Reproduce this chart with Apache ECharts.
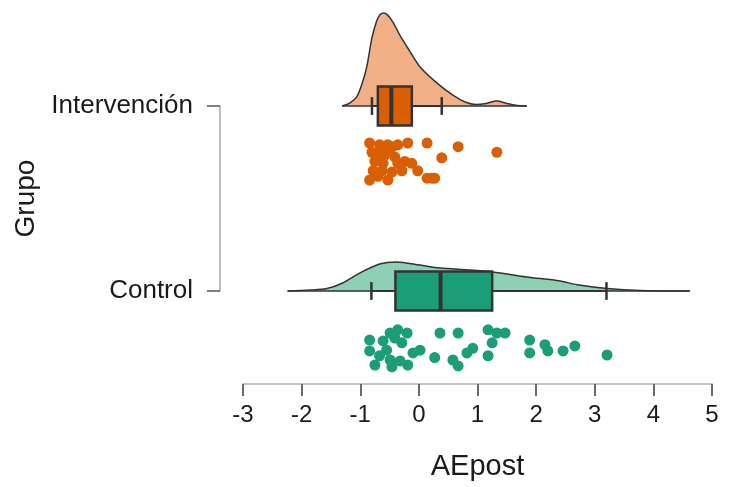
<!DOCTYPE html>
<html>
<head>
<meta charset="utf-8">
<script src="https://cdn.jsdelivr.net/npm/echarts@6/dist/echarts.min.js"></script>
<style>
  html, body { margin: 0; padding: 0; background: #fff; }
  #chart { width: 737px; height: 487px; }
</style>
</head>
<body>
<div id="chart"></div>
<script>
// y positions on the value axis: Control = 0, Intervención = 1
const GROUPS = ['Control', 'Intervención'];
const X_TICKS = [-3, 5];

// half-violin outline, [AEpost, density height]
const INTER_DENSITY = [
  [-1.31, 0], [-1.18, 0.016], [-1.06, 0.049], [-0.97, 0.12], [-0.89, 0.21],
  [-0.80, 0.37], [-0.72, 0.46], [-0.66, 0.495], [-0.60, 0.503], [-0.54, 0.494],
  [-0.44, 0.452], [-0.32, 0.38], [-0.20, 0.319], [0.02, 0.211], [0.31, 0.124],
  [0.58, 0.059], [0.80, 0.02], [0.97, 0.008], [1.15, 0.014], [1.33, 0.027],
  [1.50, 0.014], [1.65, 0.004], [1.84, 0]
];
const CTRL_DENSITY = [
  [-2.24, 0], [-1.86, 0.005], [-1.57, 0.013], [-1.30, 0.043], [-1.01, 0.097],
  [-0.67, 0.146], [-0.38, 0.157], [0.02, 0.14], [0.36, 0.124], [0.87, 0.114],
  [1.26, 0.103], [1.84, 0.076], [2.41, 0.054], [2.70, 0.034], [3.21, 0.014],
  [3.77, 0.003], [4.62, 0]
];

// [whisker low, q1, median, q3, whisker high]
const INTER_BOX = [-0.80, -0.70, -0.47, -0.12, 0.39];
const CTRL_BOX = [-0.81, -0.40, 0.37, 1.25, 3.20];

// raw points, [AEpost, vertical jitter below the group line]
const INTER_POINTS = [
  [-0.84, -0.20], [-0.67, -0.21], [-0.53, -0.21], [-0.36, -0.21], [-0.19, -0.20],
  [0.14, -0.20], [0.67, -0.22], [1.33, -0.25], [0.39, -0.28], [-0.80, -0.25],
  [-0.75, -0.30], [-0.58, -0.265], [-0.41, -0.276], [-0.24, -0.30], [-0.12, -0.31],
  [-0.02, -0.35], [0.14, -0.39], [0.27, -0.39], [-0.84, -0.40], [-0.53, -0.40],
  [-0.46, -0.357], [-0.63, -0.35], [-0.78, -0.35], [-0.29, -0.35], [-0.36, -0.31],
  [-0.61, -0.31], [-0.72, -0.28], [-0.66, -0.24], [-0.50, -0.24], [-0.70, -0.38],
  [-0.45, -0.22], [0.22, -0.39]
];
const CTRL_POINTS = [
  [-0.84, -0.265], [-0.84, -0.324], [-0.75, -0.40], [-0.49, -0.227], [-0.36, -0.21],
  [-0.20, -0.227], [-0.41, -0.254], [-0.55, -0.32], [-0.49, -0.373], [-0.46, -0.41],
  [-0.32, -0.378], [-0.19, -0.40], [-0.10, -0.335], [0.02, -0.32], [0.27, -0.36],
  [0.36, -0.227], [0.67, -0.227], [0.58, -0.373], [0.67, -0.405], [0.82, -0.335],
  [0.92, -0.31], [1.18, -0.21], [1.33, -0.227], [1.47, -0.227], [1.25, -0.28],
  [1.18, -0.35], [1.89, -0.265], [1.89, -0.335], [2.15, -0.29], [2.20, -0.324],
  [2.46, -0.324], [2.66, -0.297], [3.21, -0.346], [-0.61, -0.27], [-0.29, -0.28],
  [-0.67, -0.35]
];

const FONT = 'Liberation Sans, Arial, sans-serif';
const INK = '#333333';

const chart = echarts.init(document.getElementById('chart'), null, { renderer: 'canvas' });

function shift(arr, base) {
  return arr.map(([x, v]) => [x, base + v]);
}

function densitySeries(dens, base, fill) {
  return {
    type: 'line', data: shift(dens, base), smooth: 0.3, showSymbol: false, clip: false,
    lineStyle: { color: INK, width: 1.5 },
    areaStyle: { color: fill, opacity: 1, origin: base },
    z: 2
  };
}

function baselineSeries(dens, base) {
  return {
    type: 'line', clip: false, showSymbol: false, z: 3,
    lineStyle: { color: INK, width: 1.5 },
    data: [[dens[0][0], base], [dens[dens.length - 1][0], base]]
  };
}

// box + whiskers drawn through the axes' scales
function boxSeries(stats, base, fill) {
  return {
    type: 'custom', clip: false, z: 4,
    data: [[base, ...stats]],
    renderItem(params, api) {
      const b = api.value(0);
      const px = (v) => api.coord([v, b])[0];
      const y = api.coord([0, b])[1];
      const hh = api.size([0, 0.105])[1];
      const ch = api.size([0, 0.048])[1];
      const lo = px(api.value(1)), q1 = px(api.value(2)), med = px(api.value(3));
      const q3 = px(api.value(4)), hi = px(api.value(5));
      const seg = (x1, y1, x2, y2, w) => ({
        type: 'line', shape: { x1, y1, x2, y2 }, style: { stroke: INK, lineWidth: w }
      });
      return {
        type: 'group',
        children: [
          seg(lo, y, q1, y, 2),
          seg(q3, y, hi, y, 2),
          seg(lo, y - ch, lo, y + ch, 2.5),
          seg(hi, y - ch, hi, y + ch, 2.5),
          { type: 'rect', shape: { x: q1, y: y - hh, width: q3 - q1, height: 2 * hh },
            style: { fill, stroke: INK, lineWidth: 2.5 } },
          seg(med, y - hh, med, y + hh, 4)
        ]
      };
    }
  };
}

function pointSeries(pts, base, color) {
  return {
    type: 'scatter', data: shift(pts, base), symbolSize: 11, clip: false, z: 5,
    itemStyle: { color, opacity: 1 }
  };
}

chart.setOption({
  animation: false,
  backgroundColor: '#fff',
  grid: { left: 243, right: 25, top: 106, bottom: 196 },
  xAxis: {
    type: 'value', min: X_TICKS[0], max: X_TICKS[1], interval: 1, offset: 93,
    name: 'AEpost', nameLocation: 'middle', nameGap: 68,
    nameTextStyle: { fontFamily: FONT, fontSize: 29, color: '#1a1a1a' },
    axisLine: { onZero: false, lineStyle: { color: '#c4c4c4', width: 2 } },
    axisTick: { length: 12, lineStyle: { color: '#6a6a6a', width: 2 } },
    axisLabel: { margin: 19, fontFamily: FONT, fontSize: 24, color: '#1a1a1a' },
    splitLine: { show: false }
  },
  yAxis: {
    type: 'value', min: 0, max: 1, interval: 1, offset: 23,
    name: 'Grupo', nameLocation: 'middle', nameGap: 178,
    nameTextStyle: { fontFamily: FONT, fontSize: 28, color: '#1a1a1a' },
    axisLine: { show: true, onZero: false, lineStyle: { color: '#aaaaaa', width: 1.5 } },
    axisTick: { show: true, length: 13, lineStyle: { color: '#555', width: 1.5 } },
    axisLabel: {
      margin: 27, fontFamily: FONT, fontSize: 26, color: '#1a1a1a',
      formatter: (v) => GROUPS[v] || ''
    },
    splitLine: { show: false }
  },
  series: [
    densitySeries(INTER_DENSITY, 1, '#F2B087'),
    baselineSeries(INTER_DENSITY, 1),
    boxSeries(INTER_BOX, 1, '#D95F02'),
    pointSeries(INTER_POINTS, 1, '#D95F02'),
    densitySeries(CTRL_DENSITY, 0, '#8DD0B6'),
    baselineSeries(CTRL_DENSITY, 0),
    boxSeries(CTRL_BOX, 0, '#1B9E77'),
    pointSeries(CTRL_POINTS, 0, '#1B9E77')
  ]
});
</script>
</body>
</html>
